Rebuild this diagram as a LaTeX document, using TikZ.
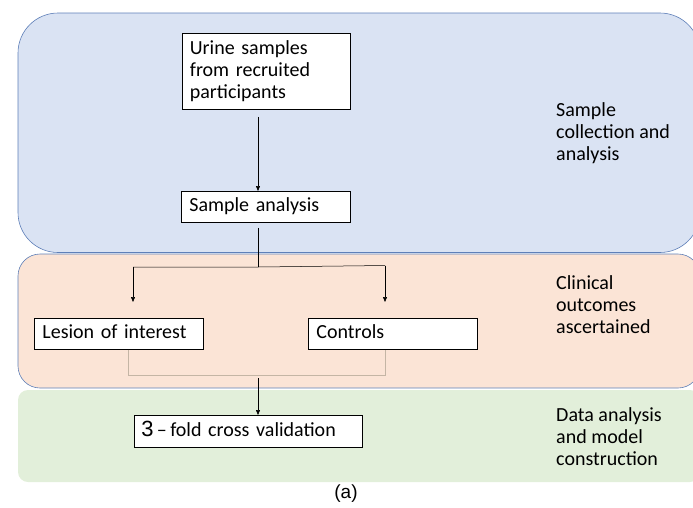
\documentclass[tikz,border=0pt]{standalone}
\usepackage{fontspec}
\setmainfont{Carlito}
\newfontfamily\arialf{Liberation Sans}
\usetikzlibrary{arrows.meta}
\definecolor{bluefill}{HTML}{DAE3F3}
\definecolor{orangefill}{HTML}{FBE4D6}
\definecolor{greenfill}{HTML}{E2EFDA}
\definecolor{panelborder}{HTML}{5E7FB8}
\definecolor{graylink}{HTML}{C4B5A5}
\tikzset{
  panel/.style={fill=#1, draw=panelborder, line width=0.6pt},
  boxbase/.style={draw=black, fill=white, line width=0.8pt, align=left, inner xsep=8pt, inner ysep=0pt, anchor=north west, font=\fontsize{20}{22}\selectfont},
  stepbox/.style={boxbase, text height=14pt, text depth=4pt},
  sidelabel/.style={align=left, anchor=north west, inner sep=0pt, font=\fontsize{20}{22}\selectfont},
  arr/.style={draw=black, line width=0.5pt, -{Triangle[length=5pt,width=4pt]}},
  plain/.style={draw=black, line width=0.5pt},
  glink/.style={draw=graylink, line width=1pt}
}
\begin{document}
\begin{tikzpicture}[x=1pt,y=-1pt]
\useasboundingbox (0,0) rectangle (693,507);
% panels
\path[panel=greenfill, draw=none, rounded corners=10pt] (18,390) rectangle (700,482);
\path[panel=orangefill, rounded corners=22pt] (18,254) rectangle (700,388);
\path[panel=bluefill, rounded corners=40pt] (18,13) rectangle (700,252.5);
% boxes
\node[boxbase, text width=152pt, minimum height=76pt] (urine) at (181.5,33) {Urine samples\\from recruited\\participants};
\node[stepbox, text width=153pt, minimum height=31pt] (sa) at (181,191) {Sample analysis};
\node[stepbox, text width=153pt, minimum height=31pt] (lesion) at (34,318) {Lesion of interest};
\node[stepbox, text width=152pt, minimum height=31pt, inner xsep=8.5pt] (ctrl) at (307.5,318) {Controls};
\node[stepbox, text width=214pt, minimum height=32pt, inner xsep=7pt] (cv) at (134,415) {{\arialf\fontsize{22}{22}\selectfont 3}\,–\,fold cross validation};
% coordinates
\coordinate (split) at (258,267);
\coordinate (splitL) at (133,267);
\coordinate (splitR) at (385,265.5);
\coordinate (joinL) at (128,375);
\coordinate (joinR) at (385.5,375);
\coordinate (joinM) at (258,378);
% connectors
\draw[arr] ([yshift=-7pt]urine.south -| split) -- (sa.north -| split);
\draw[plain] ([yshift=-5pt]sa.south -| split) -- (split);
\draw[plain] (splitL) -- (split) -- (splitR);
\draw[arr] (splitL) -- (133,302);
\draw[arr] (splitR) -- (385,302);
\draw[glink] (lesion.south -| joinL) -- (joinL) -- (joinR) -- (ctrl.south -| joinR);
\draw[arr] (joinM) -- (cv.north -| joinM);
% side labels
\node[sidelabel] (l1) at (556,102) {Sample\\collection and\\analysis};
\node[sidelabel] (l2) at (556,275) {Clinical\\outcomes\\ascertained};
\node[sidelabel] (l3) at (556,407) {Data analysis\\and model\\construction};
\node[font=\arialf\fontsize{19}{20}\selectfont] (cap) at (346,494) {(a)};
\end{tikzpicture}
\end{document}
